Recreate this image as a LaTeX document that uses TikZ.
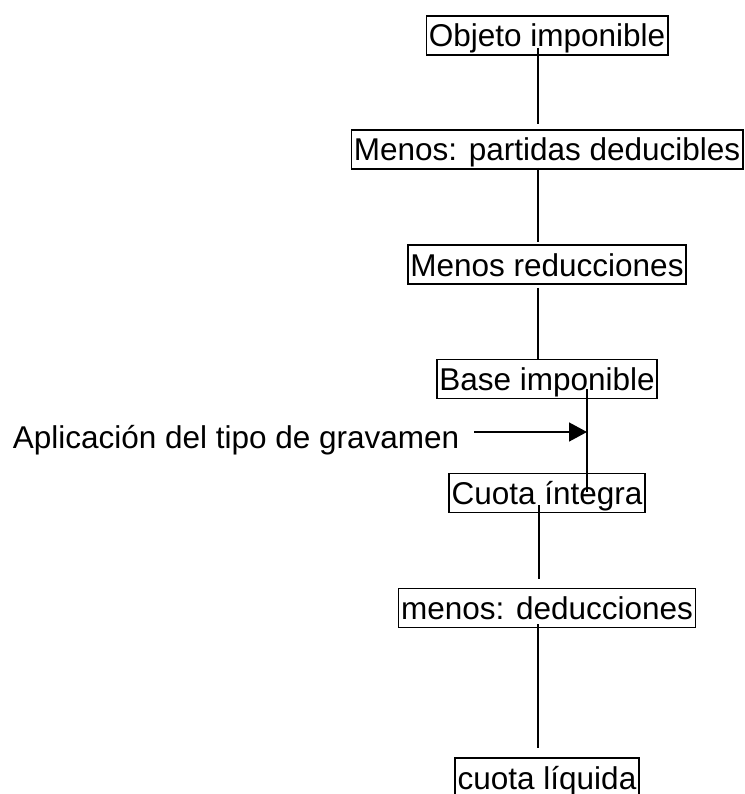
\documentclass[tikz,border=0pt]{standalone}
\usepackage{fontspec}
\setmainfont{Liberation Sans}
\usetikzlibrary{arrows.meta,calc}
\tikzset{
  paso/.style={draw,line width=1.6pt,inner xsep=2.5pt,inner ysep=0pt,
    text height=31pt,text depth=8pt,font=\fontsize{31.5}{38}\selectfont},
  etiqueta/.style={inner sep=0pt,anchor=base west,font=\fontsize{31.5}{38}\selectfont}
}
\begin{document}
\begin{tikzpicture}[x=1pt,y=-1pt,line width=1.5pt]
      \useasboundingbox (0,0) rectangle (744,794);
      \draw
        (547,35.5) node[paso] (objeto){Objeto imponible}
        (547,149.5) node[paso] (partidas){Menos: partidas deducibles}
        (547,264.5) node[paso] (reducciones){Menos reducciones}
        (547,379) node[paso] (base){Base imponible}
        (547,493) node[paso] (integra){Cuota íntegra}
        (547,608) node[paso] (deducciones){menos: deducciones}
        (547,777.5) node[paso] (liquida){cuota líquida}
        (12,448) node[etiqueta] (tipo){Aplicación del tipo de gravamen};
      \coordinate (aplic) at (587,432);
      \begin{scope}[-]
        \draw ([xshift=-9pt,yshift=8pt]objeto.south) to ([xshift=-9pt,yshift=5pt]partidas.north);
        \draw ([xshift=-9pt,yshift=2pt]partidas.south) to ([xshift=-9pt,yshift=2pt]reducciones.north);
        \draw ([xshift=-9pt,yshift=-3pt]reducciones.south) to ([xshift=-9pt]base.north);
        \draw ([xshift=40pt,yshift=10pt]base.south) to ([xshift=40pt,yshift=-19pt]integra.north);
        \draw ([xshift=-8pt,yshift=8pt]integra.south) to ([xshift=-8pt,yshift=9pt]deducciones.north);
        \draw ([xshift=-9pt,yshift=4pt]deducciones.south) to ([xshift=-9pt,yshift=9pt]liquida.north);
      \end{scope}
      \draw[-{Triangle[length=18pt,width=19pt]}] ($(tipo.east |- aplic)+(14,0)$) to (aplic);
    \end{tikzpicture}
\end{document}
